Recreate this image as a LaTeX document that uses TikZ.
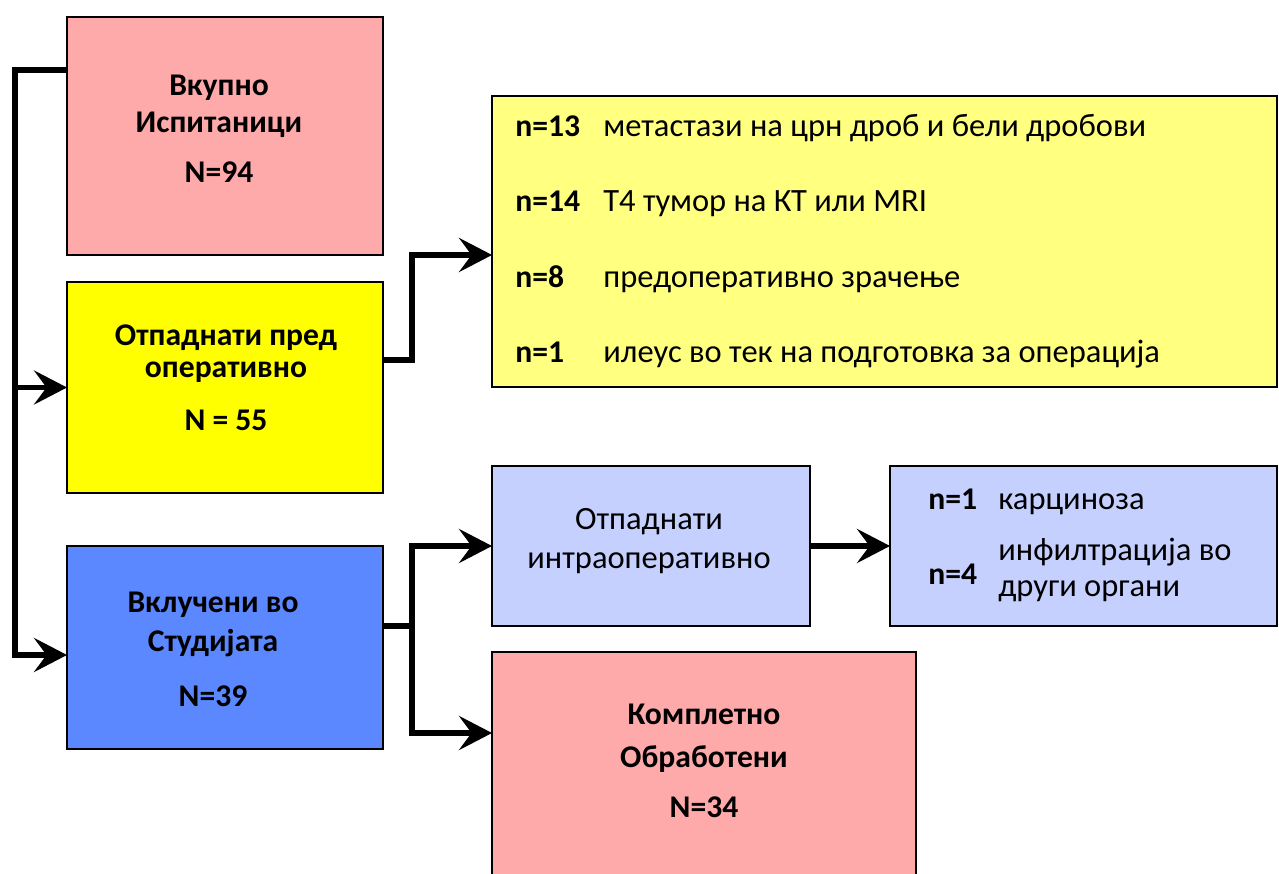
\documentclass[tikz,border=0pt]{standalone}
\usepackage{fontspec}
\setmainfont{Carlito}
\usetikzlibrary{arrows.meta}
\definecolor{boxpink}{RGB}{255,170,170}
\definecolor{boxyellow}{RGB}{255,255,0}
\definecolor{boxblue}{RGB}{91,135,255}
\definecolor{paleyellow}{RGB}{255,255,128}
\definecolor{paleblue}{RGB}{197,208,255}
\begin{document}
\begin{tikzpicture}[x=0.02cm, y=-0.02cm, >={Stealth[length=0.66cm,width=0.68cm,inset=0.25cm]},
	box/.style={draw, line width=0.8pt, inner sep=0pt, outer sep=0pt},
	conn/.style={line width=3.4pt},
	lbl/.style={anchor=base, inner sep=0pt, font=\fontsize{18}{21}\selectfont\bfseries},
	plain/.style={anchor=base, inner sep=0pt, font=\fontsize{18.5}{21}\selectfont},
	num/.style={anchor=base west, inner sep=0pt, font=\fontsize{18}{21}\selectfont\bfseries},
	desc/.style={anchor=base west, inner sep=0pt, font=\fontsize{18.5}{21}\selectfont}]
	\path[use as bounding box, fill=white] (0,0) rectangle (1279,874);
	% boxes
	\node[box, fill=boxpink, minimum width=6.32cm, minimum height=4.76cm] (box1) at (225,136) {};
	\node[box, fill=boxyellow, minimum width=6.32cm, minimum height=4.22cm] (box2) at (225,387.5) {};
	\node[box, fill=boxblue, minimum width=6.32cm, minimum height=4.06cm] (box3) at (225,647.5) {};
	\node[box, fill=paleyellow, minimum width=15.70cm, minimum height=5.82cm] (box4) at (884.5,241.5) {};
	\node[box, fill=paleblue, minimum width=6.36cm, minimum height=3.2cm] (box5) at (651,546) {};
	\node[box, fill=paleblue, minimum width=7.74cm, minimum height=3.2cm] (box6) at (1083.5,546) {};
	\node[box, fill=boxpink, minimum width=8.48cm, minimum height=4.56cm] (box7) at (704,766) {};
	% texts
	\foreach \t/\x/\y [count=\i] in {Вкупно/219/96, Испитаници/219/133, N=94/219/183,
		Отпаднати пред/226/346, оперативно/226/378, N = 55/226/431,
		Вклучени во/213/613, Студијата/213/652, N=39/213/707,
		Комплетно/704/725, Обработени/704/768, N=34/704/818}{
		\node[lbl] (t\i) at (\x,\y) {\t};
	}
	\node[plain] (i1) at (649,530) {Отпаднати};
	\node[plain] (i2) at (649,569) {интраоперативно};
	\foreach \n/\t/\y [count=\i] in {13/метастази на црн дроб и бели дробови/137,
		14/Т4 тумор на КТ или MRI/212, 8/предоперативно зрачење/288,
		1/илеус во тек на подготовка за операција/363}{
		\node[num] (n\i) at (515,\y) {n=\n};
		\node[desc] (d\i) at (603,\y) {\t};
	}
	\node[num] (c1) at (928,510) {n=1};
	\node[desc] (c2) at (998,510) {карциноза};
	\node[num] (c3) at (928,585) {n=4};
	\node[desc] (c4) at (998,561) {инфилтрација во};
	\node[desc] (c5) at (998,597) {други органи};
	% connectors
	\coordinate (bus) at (15,0);
	\coordinate (out1) at ([yshift=-1.06cm]box1.north west);
	\coordinate (in3) at ([yshift=-0.15cm]box3.west);
	\draw[->, conn] (out1) -| (in3 -| bus) -- (in3);
	\draw[->, conn] (box2.west -| bus) -- (box2.west);
	\coordinate (out2) at ([yshift=0.55cm]box2.east);
	\coordinate (in4) at ([yshift=-0.27cm]box4.west);
	\draw[->, conn] (out2) -- ++(29,0) |- (in4);
	\coordinate (out3) at ([yshift=0.43cm]box3.east);
	\coordinate (in7) at ([yshift=0.66cm]box7.west);
	\draw[conn] (out3) -- ++(29,0) coordinate (fork);
	\draw[->, conn] (fork) |- (box5.west);
	\draw[->, conn] (fork) |- (in7);
	\draw[->, conn] (box5) -- (box6);
\end{tikzpicture}
\end{document}
